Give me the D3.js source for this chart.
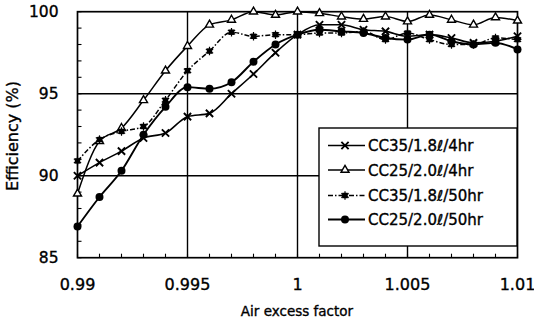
<!DOCTYPE html>
<html>
<head>
<meta charset="utf-8">
<script src="https://cdn.jsdelivr.net/npm/d3@7"></script>
<style>
  body { margin: 0; background: #fff; }
  svg { display: block; font-family: "DejaVu Sans", "Liberation Sans", Arial, sans-serif; }
  text { fill: #000; stroke: #000; stroke-width: 0.35px; }
</style>
</head>
<body>
<script>
// Air excess factor, 0.99 .. 1.01 step 0.001
const airFactor = [0.990, 0.991, 0.992, 0.993, 0.994, 0.995, 0.996, 0.997, 0.998, 0.999,
                   1.000, 1.001, 1.002, 1.003, 1.004, 1.005, 1.006, 1.007, 1.008, 1.009, 1.010];

const cc35_4hr  = [90.0, 90.8, 91.5, 92.3, 92.6, 93.6, 93.8, 95.0, 96.2, 97.5,
                   98.6, 99.2, 99.2, 98.9, 98.8, 98.5, 98.6, 98.4, 98.1, 98.2, 98.5];
const cc25_4hr  = [88.9, 92.1, 92.9, 94.6, 96.4, 97.9, 99.2, 99.5, 100.0, 99.8,
                   100.0, 99.9, 99.7, 99.55, 99.7, 99.4, 99.8, 99.5, 99.2, 99.65, 99.45];
const cc35_50hr = [90.9, 92.2, 92.7, 93.0, 94.6, 96.4, 97.6, 98.75, 98.5, 98.6,
                   98.6, 98.7, 98.7, 98.8, 98.3, 98.7, 98.3, 98.0, 98.0, 98.4, 98.3];
const cc25_50hr = [86.9, 88.7, 90.3, 92.5, 94.2, 95.4, 95.3, 95.7, 96.95, 98.0,
                   98.6, 98.9, 98.8, 98.7, 98.4, 98.3, 98.6, 98.2, 98.0, 98.1, 97.7];

const seriesNames = ["CC35/1.8\u2113/4hr", "CC25/2.0\u2113/4hr", "CC35/1.8\u2113/50hr", "CC25/2.0\u2113/50hr"];
const seriesValues = [cc35_4hr, cc25_4hr, cc35_50hr, cc25_50hr];

const xTicks = [0.99, 0.995, 1, 1.005, 1.01];
const xTickLabels = ["0.99", "0.995", "1", "1.005", "1.01"];
const yTicks = [85, 90, 95, 100];

const W = 534, H = 324;
const plot = { left: 77.5, right: 517.5, top: 11.7, bottom: 257.7 };

const svg = d3.select("body").append("svg")
    .attr("width", W).attr("height", H);

const x = d3.scaleLinear().domain([0.99, 1.01]).range([plot.left, plot.right]);
const y = d3.scaleLinear().domain([85, 100]).range([plot.bottom, plot.top]);

// major grid
const grid = svg.append("g").attr("stroke", "#000").attr("stroke-width", 1.4);
grid.selectAll("line.gx").data(xTicks.slice(1, -1)).enter().append("line")
    .attr("x1", d => x(d)).attr("x2", d => x(d))
    .attr("y1", plot.top).attr("y2", plot.bottom);
grid.selectAll("line.gy").data(yTicks.slice(1, -1)).enter().append("line")
    .attr("x1", plot.left).attr("x2", plot.right)
    .attr("y1", d => y(d)).attr("y2", d => y(d));

// minor ticks, pointing inward
const xMinor = d3.range(0, 21).map(i => 0.99 + i * 0.001);
const yMinor = d3.range(85, 101, 1);
const ticks = svg.append("g").attr("stroke", "#000").attr("stroke-width", 1.1);
ticks.selectAll("line.mx").data(xMinor).enter().append("line")
    .attr("x1", d => x(d)).attr("x2", d => x(d))
    .attr("y1", plot.bottom).attr("y2", plot.bottom - 4);
ticks.selectAll("line.my").data(yMinor).enter().append("line")
    .attr("x1", plot.left).attr("x2", plot.left + 4)
    .attr("y1", d => y(d)).attr("y2", d => y(d));

// frame
svg.append("rect")
    .attr("x", plot.left).attr("y", plot.top)
    .attr("width", plot.right - plot.left).attr("height", plot.bottom - plot.top)
    .attr("fill", "none").attr("stroke", "#000").attr("stroke-width", 1.7);

// tick labels
svg.append("g").selectAll("text").data(yTicks).enter().append("text")
    .attr("x", plot.left - 19).attr("y", d => y(d) + 5.5)
    .attr("text-anchor", "end").attr("font-size", 15.5)
    .text(d => d);
svg.append("g").selectAll("text").data(xTicks).enter().append("text")
    .attr("x", d => x(d)).attr("y", 290)
    .attr("text-anchor", "middle").attr("font-size", 16)
    .text((d, i) => xTickLabels[i]);

// axis titles
svg.append("text")
    .attr("x", 297).attr("y", 316)
    .attr("text-anchor", "middle").attr("font-size", 13.5)
    .text("Air excess factor");
svg.append("text")
    .attr("transform", "translate(18,136) rotate(-90)")
    .attr("text-anchor", "middle").attr("font-size", 16)
    .text("Efficiency (%)");

// series styles
const dashes = [null, null, "5,2,1.5,2", null];
const widths = [1.6, 1.5, 1.5, 1.9];

function drawMarker(g, i) {
    if (i === 0) {
        g.append("path").attr("d", d3.symbol(d3.symbolTimes, 36)())
            .attr("fill", "none").attr("stroke", "#000").attr("stroke-width", 1.9);
    } else if (i === 1) {
        g.append("path").attr("d", d3.symbol(d3.symbolTriangle, 28)())
            .attr("fill", "#fff").attr("stroke", "#000").attr("stroke-width", 1.4);
    } else if (i === 2) {
        g.append("path").attr("d", d3.symbol(d3.symbolSquare, 30)())
            .attr("fill", "#000");
        g.append("path").attr("d", d3.symbol(d3.symbolAsterisk, 50)())
            .attr("fill", "none").attr("stroke", "#000").attr("stroke-width", 1.2);
    } else {
        g.append("path").attr("d", d3.symbol(d3.symbolCircle, 50)())
            .attr("fill", "#000");
    }
}

const line = d3.line()
    .x((d, i) => x(airFactor[i]))
    .y(d => y(d))
    .curve(d3.curveMonotoneX);

seriesValues.forEach((vals, i) => {
    svg.append("path").datum(vals)
        .attr("d", line)
        .attr("fill", "none").attr("stroke", "#000")
        .attr("stroke-width", widths[i])
        .attr("stroke-dasharray", dashes[i]);
    vals.forEach((v, j) => {
        const g = svg.append("g").attr("transform", `translate(${x(airFactor[j])},${y(v)})`);
        drawMarker(g, i);
    });
});

// legend
const legend = svg.append("g");
legend.append("rect")
    .attr("x", 319).attr("y", 128).attr("width", 198).attr("height", 118)
    .attr("fill", "#fff").attr("stroke", "#000").attr("stroke-width", 1.4);
const legendY = [145.5, 170, 195.5, 219.5];
seriesNames.forEach((name, i) => {
    const row = legend.append("g").attr("transform", `translate(0,${legendY[i]})`);
    row.append("line")
        .attr("x1", 328).attr("x2", 365).attr("y1", 0).attr("y2", 0)
        .attr("stroke", "#000").attr("stroke-width", widths[i])
        .attr("stroke-dasharray", dashes[i]);
    drawMarker(row.append("g").attr("transform", "translate(345,0)"), i);
    row.append("text")
        .attr("x", 368).attr("y", 5.5)
        .attr("font-size", 15)
        .text(name);
});
</script>
</body>
</html>
